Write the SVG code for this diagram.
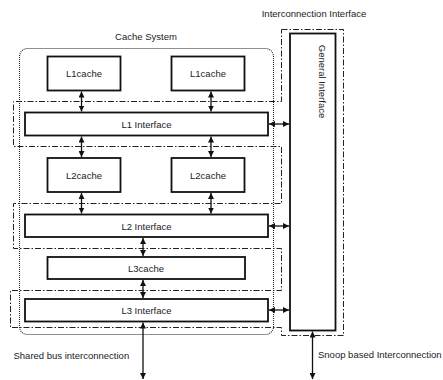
<svg xmlns="http://www.w3.org/2000/svg" width="443" height="380" viewBox="0 0 443 380">
  <defs>
    <marker id="ah" viewBox="0 0 6 6" refX="6" refY="3" markerWidth="6" markerHeight="6" markerUnits="userSpaceOnUse" orient="auto-start-reverse">
      <path d="M0,0 L6,3 L0,6 z" fill="#111"/>
    </marker>
    <style>
      .box { fill: #fff; stroke: #111; stroke-width: 1.8; }
      .lbl { font-family: "Liberation Sans", Arial, sans-serif; font-size: 9.5px; fill: #222; }
      .mid { text-anchor: middle; }
      .region { fill: none; stroke: #222; stroke-width: 1; stroke-dasharray: 6 2 1.5 2; }
      .dotted { fill: none; stroke: #222; stroke-width: 1.1; stroke-dasharray: 1 1; }
      .conn { stroke: #111; stroke-width: 1.3; fill: none; marker-start: url(#ah); marker-end: url(#ah); }
    </style>
  </defs>
  <rect width="443" height="380" fill="#fff"/>

  <!-- Cache system boundary -->
  <g id="cache-system">
    <rect class="dotted" x="19.5" y="48.5" width="254" height="286" rx="8"/>
    <text class="lbl mid" x="146" y="40">Cache System</text>
  </g>

  <!-- Interconnection interface region, wrapping each interface row -->
  <g id="interconnection-interface">
    <path class="region" d="M281.5,29.5 H343.5 V335.5 H281.5 V327.5 H10.5 V290.5 H281.5 V248.5 H13.5 V203.5 H281.5 V146.5 H13.5 V101.5 H281.5 Z"/>
    <text class="lbl mid" x="314" y="17">Interconnection Interface</text>
  </g>

  <g id="general-interface">
    <rect class="box" x="290" y="33.5" width="45.5" height="297"/>
    <text class="lbl mid" transform="translate(318.5,81.5) rotate(90)">General Interface</text>
  </g>

  <g id="l1cache-a">
    <rect class="box" x="47.5" y="56.5" width="73" height="34"/>
    <text class="lbl mid" x="84" y="77">L1cache</text>
  </g>
  <g id="l1cache-b">
    <rect class="box" x="171.5" y="56.5" width="73" height="34"/>
    <text class="lbl mid" x="208" y="77">L1cache</text>
  </g>
  <g id="l1-interface">
    <rect class="box" x="25" y="112.5" width="243" height="23"/>
    <text class="lbl mid" x="146.5" y="128">L1 Interface</text>
  </g>
  <g id="l2cache-a">
    <rect class="box" x="47.5" y="158" width="73" height="34"/>
    <text class="lbl mid" x="84" y="179">L2cache</text>
  </g>
  <g id="l2cache-b">
    <rect class="box" x="171.5" y="158" width="73" height="34"/>
    <text class="lbl mid" x="208" y="179">L2cache</text>
  </g>
  <g id="l2-interface">
    <rect class="box" x="25" y="214.5" width="243" height="22.5"/>
    <text class="lbl mid" x="146.5" y="229.5">L2 Interface</text>
  </g>
  <g id="l3cache">
    <rect class="box" x="47.5" y="257" width="197.5" height="22"/>
    <text class="lbl mid" x="146" y="272">L3cache</text>
  </g>
  <g id="l3-interface">
    <rect class="box" x="25" y="299" width="243" height="22.5"/>
    <text class="lbl mid" x="146.5" y="314">L3 Interface</text>
  </g>

  <text class="lbl" x="13.5" y="359">Shared bus interconnection</text>
  <text class="lbl" x="318" y="358">Snoop based Interconnection</text>

  <!-- Bidirectional links -->
  <g id="connectors">
    <line class="conn" x1="81.5" y1="91.5" x2="81.5" y2="111.5"/>
    <line class="conn" x1="211" y1="91.5" x2="211" y2="111.5"/>
    <line class="conn" x1="81.5" y1="136.5" x2="81.5" y2="157"/>
    <line class="conn" x1="211" y1="136.5" x2="211" y2="157"/>
    <line class="conn" x1="81.5" y1="193" x2="81.5" y2="213.5"/>
    <line class="conn" x1="211" y1="193" x2="211" y2="213.5"/>
    <line class="conn" x1="143" y1="238" x2="143" y2="256"/>
    <line class="conn" x1="143" y1="280" x2="143" y2="298"/>
    <line class="conn" x1="143" y1="322.5" x2="143" y2="379"/>
    <line class="conn" x1="269" y1="124" x2="289" y2="124"/>
    <line class="conn" x1="269" y1="226" x2="289" y2="226"/>
    <line class="conn" x1="269" y1="310" x2="289" y2="310"/>
    <line class="conn" x1="312.5" y1="331.5" x2="312.5" y2="379"/>
  </g>
</svg>
